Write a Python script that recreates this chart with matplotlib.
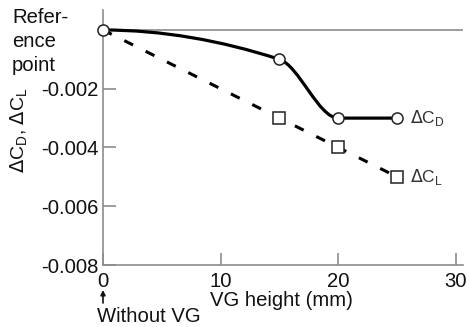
import numpy as np
import matplotlib.pyplot as plt
from matplotlib.path import Path
from matplotlib.patches import PathPatch

plt.rcParams['font.family'] = ['Liberation Sans', 'DejaVu Sans']

vg_height = [0, 15, 20, 25]
delta_cd = [0, -0.001, -0.003, -0.003]
delta_cl = [0, -0.003, -0.004, -0.005]
x_ticks = [0, 10, 20, 30]
y_ticks = [-0.008, -0.006, -0.004, -0.002]
y_ticklabels = ['-0.008', '-0.006', '-0.004', '-0.002']

grey = '#8c8c8c'
ink = '#111111'

fig = plt.figure(figsize=(4.69, 3.27), dpi=100)
ax = fig.add_axes([0.2196, 0.1896, 0.7676, 0.7798])
ax.set_xlim(0, 30.6)
ax.set_ylim(-0.008, 0.00068)

for s in ['top', 'right']:
    ax.spines[s].set_visible(False)
for s in ['left', 'bottom']:
    ax.spines[s].set_color(grey)
    ax.spines[s].set_linewidth(1.2)

ax.axhline(0, color=grey, lw=1.2, zorder=1)

ax.set_xticks(x_ticks)
ax.set_xticklabels([str(t) for t in x_ticks])
ax.set_yticks(y_ticks)
ax.set_yticklabels(y_ticklabels)
ax.tick_params(direction='in', length=9, width=1.2, color=grey,
               labelsize=14.6, labelcolor=ink, pad=3.5)
ax.tick_params(axis='x', pad=5)


# smooth monotone curve for dCD (pchip style slopes, drawn as bezier)
def pchip_slopes(x, y):
    x = np.asarray(x, float)
    y = np.asarray(y, float)
    h = np.diff(x)
    d = np.diff(y) / h
    m = np.zeros_like(y)
    for k in range(1, len(x) - 1):
        if d[k - 1] * d[k] > 0:
            w1 = 2 * h[k] + h[k - 1]
            w2 = h[k] + 2 * h[k - 1]
            m[k] = (w1 + w2) / (w1 / d[k - 1] + w2 / d[k])
    return m


m = pchip_slopes(vg_height, delta_cd)
verts = [(vg_height[0], delta_cd[0])]
codes = [Path.MOVETO]
for k in range(len(vg_height) - 1):
    h = vg_height[k + 1] - vg_height[k]
    verts += [(vg_height[k] + h / 3, delta_cd[k] + m[k] * h / 3),
              (vg_height[k + 1] - h / 3, delta_cd[k + 1] - m[k + 1] * h / 3),
              (vg_height[k + 1], delta_cd[k + 1])]
    codes += [Path.CURVE4] * 3
ax.add_patch(PathPatch(Path(verts, codes), facecolor='none', edgecolor='black',
                       lw=2.3, zorder=3, clip_on=False))

ax.plot(vg_height, delta_cl, color='black', lw=2.2, dashes=(3.2, 4.6), zorder=3)
ax.plot(vg_height[1:], delta_cl[1:], 's', ms=8.5, mfc='white', mec='#222222',
        mew=1.1, zorder=4, clip_on=False)
ax.plot(vg_height, delta_cd, 'o', ms=8, mfc='white', mec='#222222',
        mew=1.1, zorder=5, clip_on=False)

ax.text(26.1, delta_cd[-1], r'$\Delta$C$_\mathregular{D}$', fontsize=12.5,
        color='#333333', va='center', ha='left')
ax.text(26.1, delta_cl[-1], r'$\Delta$C$_\mathregular{L}$', fontsize=12.5,
        color='#333333', va='center', ha='left')

fig.text(12 / 469, 1 - 8 / 327, 'Refer-\nence\npoint', fontsize=14.6, color=ink,
         ha='left', va='top', linespacing=1.32)
fig.text(19 / 469, 1 - 130 / 327, r'$\Delta$C$_\mathregular{D}$, $\Delta$C$_\mathregular{L}$',
         fontsize=14, color=ink, rotation=90, ha='center', va='center')
fig.text(281 / 469, 1 - 300 / 327, 'VG height (mm)', fontsize=14.6, color=ink,
         ha='center', va='center')
fig.text(97 / 469, 1 - 316 / 327, 'Without VG', fontsize=14.6, color=ink,
         ha='left', va='center')
fig.add_artist(plt.Annotation('', xy=(103 / 469, 1 - 290 / 327), xycoords='figure fraction',
                              xytext=(103 / 469, 1 - 303 / 327), textcoords='figure fraction',
                              arrowprops=dict(arrowstyle='-|>', color=ink, lw=1.2,
                                              mutation_scale=7, shrinkA=0, shrinkB=0)))

fig.savefig('out.png', dpi=100)
